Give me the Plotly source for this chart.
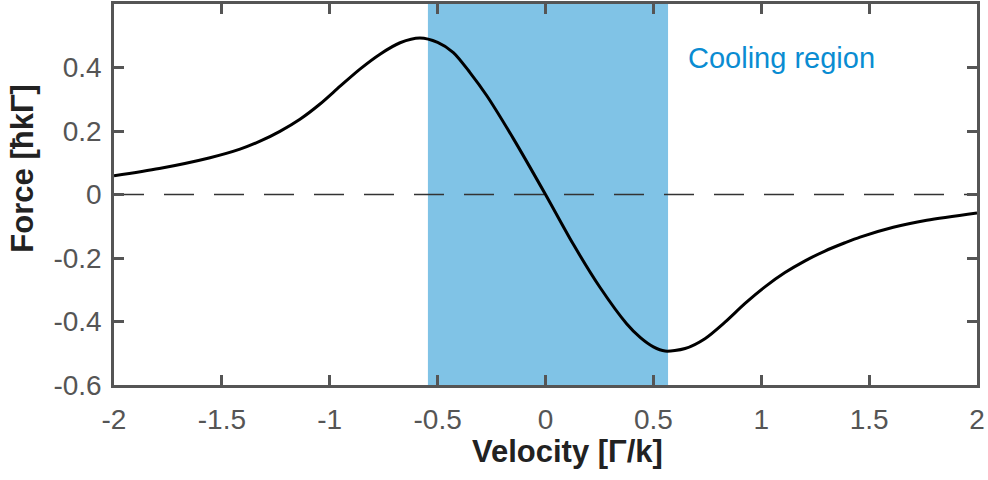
import plotly.graph_objects as go

# Data
velocity = [-2.0, -1.79, -1.555, -1.416, -1.323, -1.231, -1.138, -1.045, -0.952, -0.860,
            -0.767, -0.674, -0.582, -0.5, -0.427, -0.35, -0.272, -0.149, 0.0, 0.129,
            0.253, 0.376, 0.44, 0.5, 0.554, 0.647, 0.739, 0.832, 0.925, 1.017, 1.110,
            1.203, 1.295, 1.388, 1.458, 1.612, 1.767, 2.0]
force = [0.059, 0.082, 0.116, 0.143, 0.168, 0.199, 0.237, 0.285, 0.341, 0.395,
         0.442, 0.478, 0.493, 0.479, 0.447, 0.384, 0.311, 0.176, 0.0, -0.157,
         -0.293, -0.407, -0.451, -0.480, -0.493, -0.485, -0.454, -0.402, -0.343, -0.291, -0.246,
         -0.209, -0.178, -0.152, -0.134, -0.103, -0.081, -0.058]

zero_x = [-2, 2]
zero_y = [0, 0]

cooling_lo = -0.545
cooling_hi = 0.568
cooling_label = "Cooling region"
cooling_label_pos = (0.651, 0.43)

x_ticks = [-2, -1.5, -1, -0.5, 0, 0.5, 1, 1.5, 2]
y_ticks = [-0.6, -0.4, -0.2, 0, 0.2, 0.4]

AXIS_COL = "#555555"
FONT = "Liberation Sans, Arial, Helvetica, sans-serif"

fig = go.Figure()

fig.add_shape(type="rect", xref="x", yref="paper", x0=cooling_lo, x1=cooling_hi,
              y0=0, y1=1, fillcolor="rgb(128,195,230)", line_width=0, layer="below")

fig.add_trace(go.Scatter(x=zero_x, y=zero_y, mode="lines",
                         line=dict(color="#333333", width=1.6, dash="30px,20px"),
                         hoverinfo="skip", showlegend=False))

fig.add_trace(go.Scatter(x=velocity, y=force, mode="lines",
                         line=dict(color="black", width=3, shape="spline", smoothing=0.8),
                         showlegend=False))

fig.add_annotation(x=cooling_label_pos[0], y=cooling_label_pos[1], xref="x", yref="y",
                   text=cooling_label, showarrow=False, xanchor="left", yanchor="middle",
                   font=dict(family=FONT, size=29, color="rgb(10,140,210)"))

fig.add_annotation(x=0.5255, y=-0.1745, xref="paper", yref="paper",
                   text="Velocity [Γ/k]", showarrow=False, xanchor="center", yanchor="middle",
                   font=dict(family=FONT, size=31, color="#222222", weight="bold"))

fig.add_annotation(x=-0.1054, y=0.568, xref="paper", yref="paper", textangle=-90,
                   text="Force [ħkΓ]", showarrow=False, xanchor="center", yanchor="middle",
                   font=dict(family=FONT, size=31, color="#222222", weight="bold"))

axis_common = dict(showline=True, linecolor=AXIS_COL, linewidth=2.5, mirror="ticks",
                   ticks="inside", ticklen=10, tickwidth=2.5, tickcolor=AXIS_COL,
                   showgrid=False, zeroline=False,
                   tickfont=dict(family=FONT, size=28, color=AXIS_COL))

fig.update_xaxes(range=[-2, 2], tickvals=x_ticks,
                 ticktext=[f"{v:g}" for v in x_ticks], ticklabelstandoff=8, **axis_common)
fig.update_yaxes(range=[-0.6, 0.6], tickvals=y_ticks,
                 ticktext=[f"{v:g}" for v in y_ticks], ticklabelstandoff=4, **axis_common)

fig.update_layout(width=988, height=480, margin=dict(l=114, r=11, t=1, b=95),
                  plot_bgcolor="white", paper_bgcolor="white")

fig.write_html("out.html")
